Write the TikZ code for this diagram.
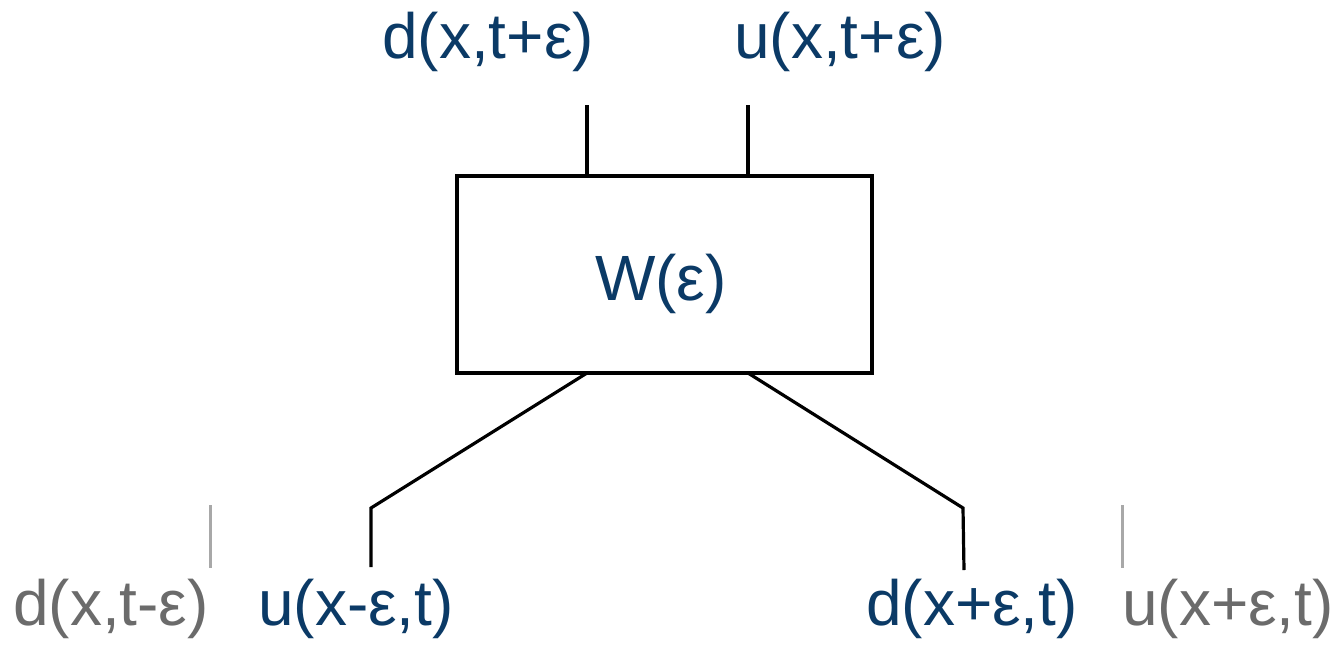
\documentclass[tikz,border=0pt]{standalone}
\usepackage{fontspec}
\setmainfont{Liberation Sans}
\definecolor{navy}{HTML}{0B3A66}
\definecolor{greytxt}{HTML}{6B6B6B}
\definecolor{greyline}{HTML}{A8A8A8}
\begin{document}
\begin{tikzpicture}[x=1pt,y=-1pt,
  lbl/.style={inner sep=0pt, anchor=base, text=navy, font=\fontsize{64}{72}\selectfont},
  glbl/.style={lbl, text=greytxt},
  wire/.style={line width=3.2pt, black, line join=miter},
  gwire/.style={line width=3pt, greyline}]
\useasboundingbox (0,0) rectangle (1341,649);
\node[draw, line width=3.2pt, minimum width=415pt, minimum height=197pt, inner sep=0pt] (box) at (664.5,274.5) {};
\node[lbl] (W) at (661,300) {W(ε)};
\node[lbl] (dt) at (488,58) {d(x,t+ε)};
\node[lbl] (ut) at (840,58) {u(x,t+ε)};
\node[glbl] (dl) at (111,625) {d(x,t-ε)};
\node[lbl] (ul) at (356,625) {u(x-ε,t)};
\node[lbl] (dr) at (972,625) {d(x+ε,t)};
\node[glbl] (ur) at (1228,625) {u(x+ε,t)};
\coordinate (t1) at (587,105);
\coordinate (t2) at (748,105);
\coordinate (b1) at (587,373);
\coordinate (b2) at (748,373);
\coordinate (k1) at (371,508);
\coordinate (e1) at (371,567);
\coordinate (k2) at (963,508);
\coordinate (e2) at (964,570);
\coordinate (g1a) at (210,505);
\coordinate (g1b) at (210,568);
\coordinate (g2a) at (1122,505);
\coordinate (g2b) at (1122,568);
\draw[wire] (t1) -- (t1 |- box.north);
\draw[wire] (t2) -- (t2 |- box.north);
\draw[wire] (b1) -- (k1) -- (e1);
\draw[wire] (b2) -- (k2) -- (e2);
\draw[gwire] (g1a) -- (g1b);
\draw[gwire] (g2a) -- (g2b);
\end{tikzpicture}
\end{document}
